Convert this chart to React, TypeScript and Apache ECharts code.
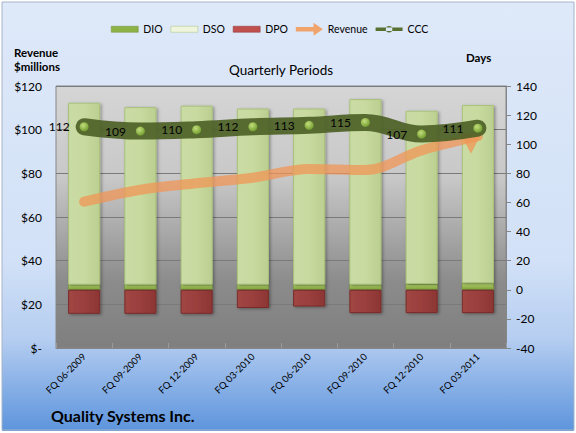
import React, { useEffect, useRef } from "react";
import * as echarts from "echarts";

const categories = [
  "FQ 06-2009",
  "FQ 09-2009",
  "FQ 12-2009",
  "FQ 03-2010",
  "FQ 06-2010",
  "FQ 09-2010",
  "FQ 12-2010",
  "FQ 03-2011",
];
const dio = [3.5, 3.5, 3.5, 3.5, 3.5, 3.5, 4, 4.5];
const dso = [125, 122, 123, 121, 121, 127.5, 119, 122.5];
const dpo = [-16.5, -16.5, -16.5, -12.5, -11.5, -16, -16, -16];
const revenue = [67, 72.5, 75.5, 78, 82, 81.5, 90.5, 97];
const ccc = [112, 109, 110, 112, 113, 115, 107, 111];
const revenueTicks = [0, 20, 40, 60, 80, 100, 120];
const dayTicks = [-40, -20, 0, 20, 40, 60, 80, 100, 120, 140];

const FONT = "Lato";

export default function App() {
  const ref = useRef<HTMLDivElement>(null);
  useEffect(() => {
    document.body.style.margin = "0";
    const chart = echarts.init(ref.current!, null, { renderer: "svg" });
    const lg = (stops: [number, string][], horizontal = false) =>
      new echarts.graphic.LinearGradient(
        0,
        0,
        horizontal ? 1 : 0,
        horizontal ? 0 : 1,
        stops.map(([offset, color]) => ({ offset, color }))
      );
    const barShadow = {
      shadowBlur: 3,
      shadowColor: "rgba(0,0,0,0.35)",
      shadowOffsetX: 1.5,
      shadowOffsetY: 1,
    };
    const revColor = "rgba(240,150,85,0.75)";
    const cccColor = "rgba(79,98,40,0.93)";
    const lastRev = revenue.length - 1;
    const barIcon = "path://M0,0M27,14M0,4h27v6h-27z";

    chart.setOption({
      animation: false,
      backgroundColor: lg([
        [0, "#dee9f9"],
        [0.6, "#d2e1f7"],
        [0.78, "#b6cef1"],
        [1, "#5b93dc"],
      ]),
      textStyle: { fontFamily: FONT },
      legend: {
        left: 106,
        top: 17,
        itemWidth: 27,
        itemHeight: 14,
        itemGap: 8,
        textStyle: { fontSize: 10.5, color: "#000", fontFamily: FONT },
        data: [
          {
            name: "DIO",
            icon: barIcon,
            itemStyle: { color: "#8db347", borderColor: "#6f8f35", borderWidth: 0.5 },
          },
          {
            name: "DSO",
            icon: barIcon,
            itemStyle: { color: "#eef5dc", borderColor: "#a9c27a", borderWidth: 0.5 },
          },
          {
            name: "DPO",
            icon: barIcon,
            itemStyle: { color: "#c0504d", borderColor: "#8c3533", borderWidth: 0.5 },
          },
          {
            name: "Revenue",
            icon: "path://M0,0M29,14M0,4.5h19v-4.5l10,7l-10,7v-4.5h-19z",
            itemStyle: { color: "#f0a46c" },
          },
          {
            name: "CCC",
            icon: "path://M0,0M29,14M0,5h29v4h-29zM11,7a3.5,3.5 0 1,0 7,0a3.5,3.5 0 1,0 -7,0z",
            itemStyle: { color: "#5a7030" },
          },
        ],
      },
      grid: {
        left: 56,
        right: 70,
        top: 86,
        bottom: 85,
        show: true,
        backgroundColor: lg([
          [0, "#d5d5d5"],
          [0.35, "#c8c8c8"],
          [0.75, "#8b8b8b"],
          [1, "#7f7f7f"],
        ]),
        borderColor: "#868686",
        borderWidth: 1,
      },
      xAxis: {
        type: "category",
        data: categories,
        axisLine: { show: true, lineStyle: { color: "#868686" } },
        axisTick: { show: true, inside: true, length: 5, lineStyle: { color: "#9a9a9a" } },
        axisLabel: { rotate: 45, fontSize: 9.5, color: "#000", margin: 7, fontFamily: FONT },
      },
      yAxis: [
        {
          type: "value",
          position: "left",
          min: revenueTicks[0],
          max: revenueTicks[revenueTicks.length - 1],
          interval: 20,
          axisLine: { show: false },
          axisTick: { show: false },
          axisLabel: {
            fontSize: 12,
            color: "#000",
            margin: 14,
            fontFamily: FONT,
            formatter: (v: number) => (v === 0 ? "$-" : "$" + v),
          },
          splitLine: { show: true, lineStyle: { color: "#7a7a7a", width: 1 } },
        },
        {
          type: "value",
          position: "right",
          min: dayTicks[0],
          max: dayTicks[dayTicks.length - 1],
          interval: 20,
          axisLine: { show: true, lineStyle: { color: "#868686" } },
          axisTick: { show: true, length: 5, lineStyle: { color: "#868686" } },
          axisLabel: { fontSize: 12, color: "#000", margin: 10, fontFamily: FONT },
          splitLine: { show: false },
        },
      ],
      series: [
        {
          name: "DIO",
          type: "bar",
          stack: "days",
          yAxisIndex: 1,
          barWidth: "57%",
          data: dio,
          itemStyle: {
            color: lg([[0, "#b5d46e"], [1, "#7fa33a"]]),
            borderColor: "#6f8f35",
            borderWidth: 0.5,
            ...barShadow,
          },
        },
        {
          name: "DSO",
          type: "bar",
          stack: "days",
          yAxisIndex: 1,
          barWidth: "57%",
          data: dso,
          itemStyle: {
            color: lg(
              [
                [0, "#cadca5"],
                [0.5, "#c8da9f"],
                [1, "#bccf91"],
              ],
              true
            ),
            borderColor: "#a9c27a",
            borderWidth: 1,
            ...barShadow,
          },
        },
        {
          name: "DPO",
          type: "bar",
          stack: "days",
          yAxisIndex: 1,
          barWidth: "57%",
          data: dpo,
          itemStyle: {
            color: lg(
              [
                [0, "#a04644"],
                [0.5, "#9a3f3d"],
                [1, "#8c3634"],
              ],
              true
            ),
            borderColor: "#7a2c2a",
            borderWidth: 1,
            ...barShadow,
          },
        },
        {
          name: "Revenue",
          type: "line",
          yAxisIndex: 0,
          smooth: 0.35,
          symbol: "none",
          showSymbol: true,
          z: 3,
          data: revenue.map((v, i) =>
            i === lastRev
              ? {
                  value: v,
                  symbol: "triangle",
                  symbolSize: [24, 17],
                  symbolRotate: -62,
                  symbolOffset: [-5, 3],
                  itemStyle: { color: revColor },
                }
              : v
          ),
          itemStyle: { color: revColor },
          lineStyle: { width: 10, color: revColor, cap: "round" },
        },
        {
          name: "CCC",
          type: "line",
          yAxisIndex: 1,
          smooth: 0.4,
          symbol: "circle",
          symbolSize: 9,
          z: 4,
          data: ccc,
          itemStyle: {
            color: new echarts.graphic.RadialGradient(0.4, 0.35, 0.7, [
              { offset: 0, color: "#c2de7c" },
              { offset: 1, color: "#6f9a2c" },
            ]),
          },
          lineStyle: { width: 17, color: cccColor, cap: "round", join: "round" },
          label: {
            show: true,
            position: "left",
            distance: 10,
            fontSize: 12,
            color: "#000",
            fontFamily: FONT,
          },
        },
      ],
      graphic: [
        {
          type: "text",
          left: 14,
          top: 45,
          style: {
            text: "Revenue\n$millions",
            font: "bold 11.5px Lato",
            fill: "#000",
            lineHeight: 14,
          },
        },
        {
          type: "text",
          left: 466,
          top: 51,
          style: { text: "Days", font: "bold 11.5px Lato", fill: "#000" },
        },
        {
          type: "text",
          x: 281,
          y: 70,
          style: {
            text: "Quarterly Periods",
            font: "13.5px Lato",
            fill: "#000",
            align: "center",
            verticalAlign: "middle",
          },
        },
        {
          type: "text",
          left: 51,
          top: 407,
          style: { text: "Quality Systems Inc.", font: "bold 16px Lato", fill: "#000" },
        },
        {
          type: "rect",
          silent: true,
          z: 100,
          shape: { x: 0.5, y: 0.5, width: 575, height: 432 },
          style: { fill: "none", stroke: "#ffffff", lineWidth: 3 },
        },
        {
          type: "rect",
          silent: true,
          z: 101,
          shape: { x: 2, y: 2, width: 572, height: 428 },
          style: { fill: "none", stroke: "#a8b4c6", lineWidth: 1 },
        },
      ],
    });
    return () => chart.dispose();
  }, []);
  return <div ref={ref} style={{ width: 576, height: 433 }} />;
}
